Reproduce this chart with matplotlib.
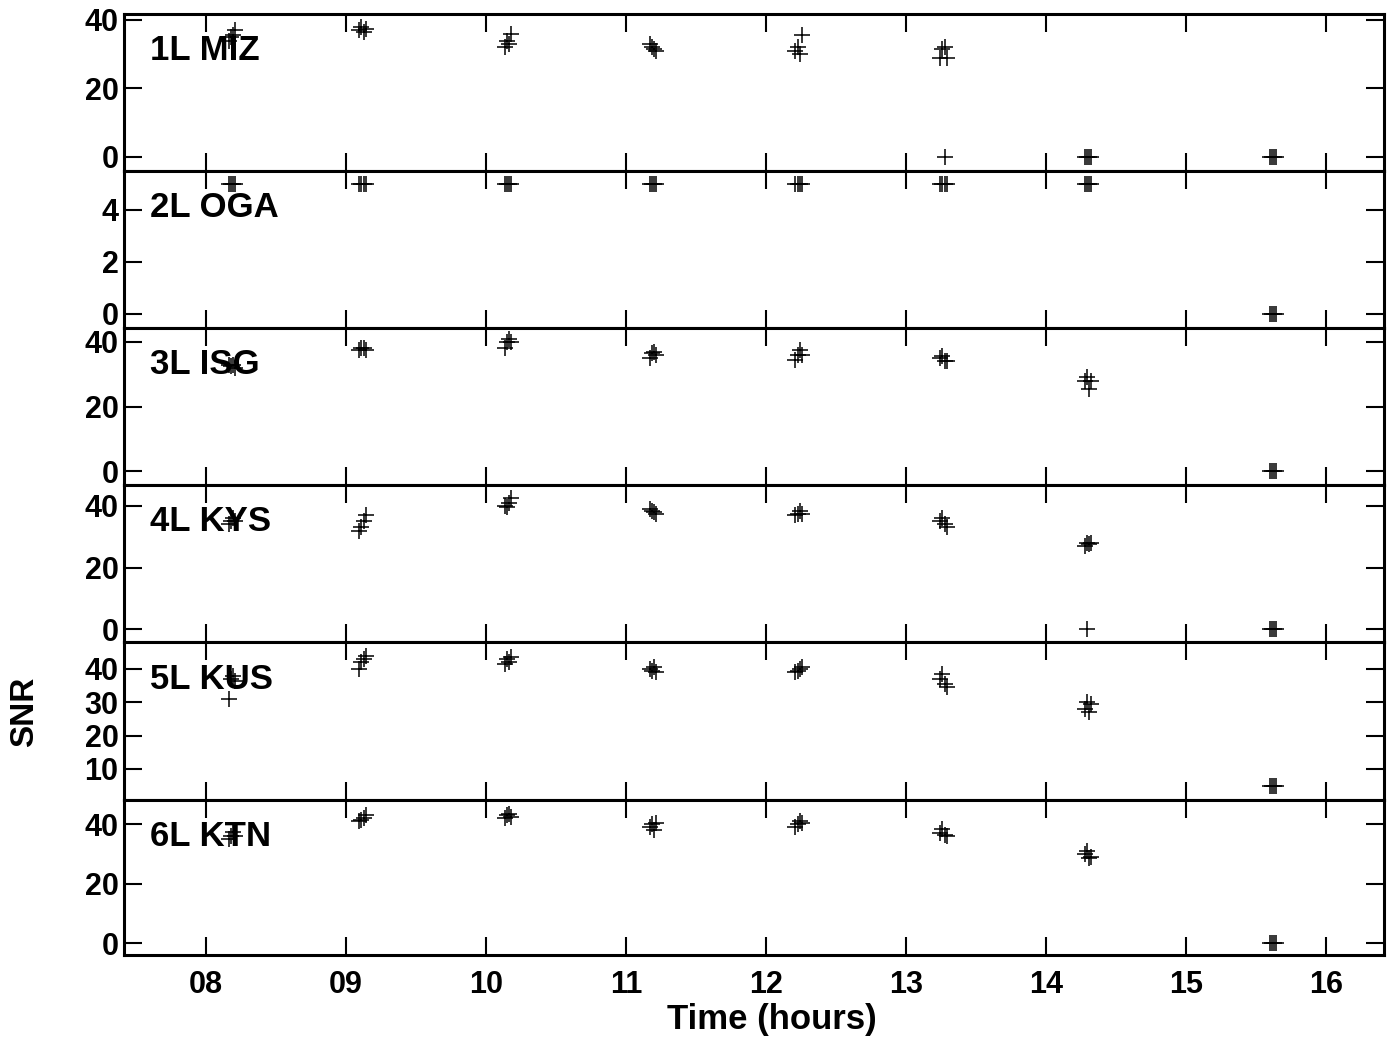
import matplotlib
matplotlib.use("Agg")
import matplotlib.pyplot as plt

plt.rcParams['font.family'] = ['Liberation Sans', 'DejaVu Sans']
plt.rcParams['font.weight'] = 'bold'

# solution times inside each scan (hours)
scan_times = [
    [8.165, 8.18, 8.195, 8.21],
    [9.095, 9.11, 9.125, 9.14],
    [10.135, 10.15, 10.165, 10.18],
    [11.17, 11.185, 11.20, 11.215],
    [12.21, 12.225, 12.24, 12.255],
    [13.245, 13.26, 13.275, 13.29],
    [14.275, 14.29, 14.305, 14.32],
    [15.60, 15.615, 15.63, 15.645],
]

stations = ["1L MIZ", "2L OGA", "3L ISG", "4L KYS", "5L KUS", "6L KTN"]

snr_miz = [[34, 35, 35.5, 37], [37, 38, 36.5, 37.5], [32, 34, 33, 36], [33, 32, 31.5, 31],
           [31, 32, 30, 35.5], [29, 31.5, 32, 29], [0, 0, 0, 0], [0, 0, 0, 0]]
snr_oga = [[5, 5, 5, 5], [5, 5, 5, 5], [5, 5, 5, 5], [5, 5, 5, 5],
           [5, 5, 5, 5], [5, 5, 5, 5], [5, 5, 5, 5], [0, 0, 0, 0]]
snr_isg = [[33, 32.5, 33, 32], [37.5, 38, 38, 37.5], [38, 40, 41, 40], [35, 36.5, 37, 36],
           [34.5, 36, 37.5, 36], [35, 35.5, 34, 34], [28, 29, 25.5, 28], [0, 0, 0, 0]]
snr_kys = [[34, 35, 36, 35], [32, 33, 35, 37], [40, 39.5, 41, 42.5], [39, 38.5, 38, 37.5],
           [37, 37.5, 38.5, 37.5], [35, 36, 34, 33], [27, 28, 27.5, 28], [0, 0, 0, 0]]
snr_kus = [[31, 37, 38, 36.5], [40, 42, 43, 44], [41.5, 43, 42, 43.5], [40, 39.5, 40.5, 39],
           [39, 39.5, 40, 40.5], [37, 38.5, 35.5, 34.5], [28, 30, 27, 29.5], [5, 5, 5, 5]]
snr_ktn = [[35, 36, 37.5, 36], [41, 41.5, 42, 43], [42, 43, 43.5, 42.5], [39, 40, 38, 40.5],
           [39, 40, 41, 40.5], [37, 38.5, 36.5, 36], [30, 31, 28.5, 29], [0, 0, 0, 0]]

# single failed solutions outside the scan grid
extra_time = [[13.28], [], [], [14.29], [], []]
extra_snr = [[0], [], [], [0], [], []]

snr_all = [snr_miz, snr_oga, snr_isg, snr_kys, snr_kus, snr_ktn]
y_ranges = [(-4.1, 41.75), (-0.54, 5.5), (-4.3, 44.3), (-4.2, 46.8), (0.7, 48.1), (-4.0, 48.1)]
y_ticks = [[0, 20, 40], [0, 2, 4], [0, 20, 40], [0, 20, 40], [10, 20, 30, 40], [0, 20, 40]]
x_ticks = [8, 9, 10, 11, 12, 13, 14, 15, 16]
x_labels = ["08", "09", "10", "11", "12", "13", "14", "15", "16"]

W, H = 1389, 1047
fig = plt.figure(figsize=(W / 100, H / 100), dpi=100)

edges = [14, 171, 328, 485, 642, 800, 955]
left, right = 124, 1384

for i, name in enumerate(stations):
    top, bot = edges[i], edges[i + 1]
    ax = fig.add_axes([left / W, 1 - bot / H, (right - left) / W, (bot - top) / H])
    xs, ys = [], []
    for t, v in zip(scan_times, snr_all[i]):
        xs += t
        ys += v
    xs += extra_time[i]
    ys += extra_snr[i]
    ax.plot(xs, ys, ls='none', marker='+', ms=11, mew=1.1, color='black', zorder=3)
    ax.set_xlim(7.414, 16.414)
    ax.set_ylim(*y_ranges[i])
    ax.set_yticks(y_ticks[i])
    ax.set_xticks(x_ticks)
    ax.tick_params(axis='both', direction='in', length=13, width=1.5,
                   top=True, right=True, labelsize=22, pad=4)
    if i < len(stations) - 1:
        ax.set_xticklabels([])
    else:
        ax.set_xticklabels(x_labels)
        ax.tick_params(axis='x', pad=11)
    for s in ax.spines.values():
        s.set_linewidth(2.2)
    ax.text(0.021, 0.765, name, transform=ax.transAxes, fontsize=25,
            fontweight='bold', va='center', ha='left', zorder=1)

fig.text(772 / W, 1 - 1020 / H, "Time (hours)", fontsize=25, fontweight='bold',
         ha='center', va='center')
fig.text(25 / W, 1 - 712 / H, "SNR", fontsize=24, fontweight='bold',
         ha='center', va='center', rotation=90)

fig.savefig("out.png", dpi=100)
